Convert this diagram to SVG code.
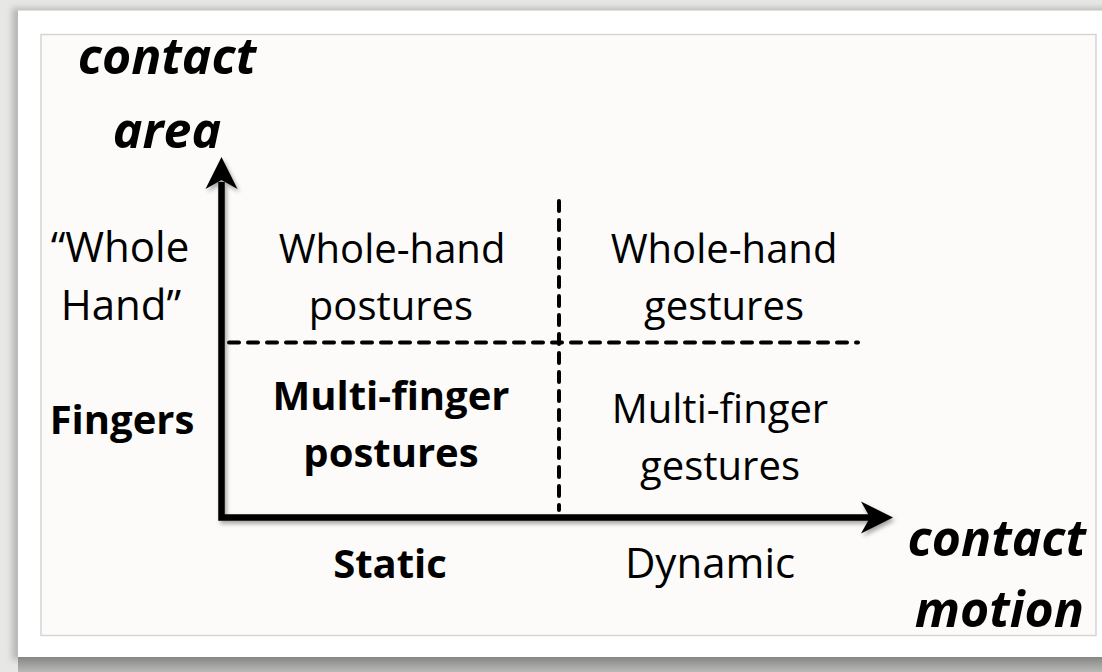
<svg xmlns="http://www.w3.org/2000/svg" width="1102" height="672" viewBox="0 0 1102 672">
  <defs>
    <style>
      .lbl { font-family: "Open Sans", "Noto Sans", "Liberation Sans", sans-serif; font-size: 40px; fill: #000; text-anchor: middle; }
      .b { font-weight: 700; }
      .axis-title { font-family: "Open Sans", "Noto Sans", "Liberation Sans", sans-serif; font-size: 50px; font-weight: 700; font-style: italic; fill: #000; }
      .axis { fill: none; stroke: #000; stroke-width: 6.5; stroke-linejoin: miter; }
      .head { fill: #000; stroke: none; }
      .grid { fill: none; stroke: #000; stroke-width: 4; stroke-dasharray: 10 9; stroke-linecap: round; }
    </style>
    <linearGradient id="floorShade" x1="0" y1="0" x2="0" y2="1">
      <stop offset="0" stop-color="#858583"/>
      <stop offset="0.45" stop-color="#9d9d9b"/>
      <stop offset="1" stop-color="#b9b9b7"/>
    </linearGradient>
    <filter id="soft" x="-10%" y="-10%" width="120%" height="120%">
      <feGaussianBlur stdDeviation="3"/>
    </filter>
    <filter id="drop" x="-5%" y="-5%" width="115%" height="115%">
      <feDropShadow dx="2" dy="3" stdDeviation="2" flood-color="#000" flood-opacity="0.35"/>
    </filter>
  </defs>

  <!-- backdrop and card -->
  <rect x="0" y="0" width="1102" height="672" fill="#e7e8e5"/>
  <rect x="12" y="8" width="1100" height="652" fill="#b8b8b6" filter="url(#soft)"/>
  <rect x="18" y="657" width="1084" height="15" fill="url(#floorShade)"/>
  <rect x="18" y="10.5" width="1090" height="646.5" fill="#ffffff"/>
  <rect x="41" y="34.5" width="1055" height="601" fill="#fcfbf9" stroke="#d5d5d3" stroke-width="1.5"/>

  <!-- axes and quadrant dividers -->
  <g id="connectors">
    <g filter="url(#drop)">
      <path class="axis" d="M221.5,182 V517.5 H872"/>
      <path class="head" d="M221.5,157 L237.5,189 L221.5,180 L205.5,189 Z"/>
      <path class="head" d="M893,517.5 L861,501.5 L870,517.5 L861,533.5 Z"/>
    </g>
    <line class="grid" x1="229" y1="342.5" x2="858" y2="342.5"/>
    <line class="grid" x1="559" y1="201" x2="559" y2="510"/>
  </g>

  <!-- axis titles -->
  <g id="y-axis-title">
    <text class="axis-title" x="167" y="74" text-anchor="middle">contact</text>
    <text class="axis-title" x="167" y="148" text-anchor="middle">area</text>
  </g>
  <g id="x-axis-title">
    <text class="axis-title" x="1086" y="556" text-anchor="end">contact</text>
    <text class="axis-title" x="1084" y="627" text-anchor="end">motion</text>
  </g>

  <!-- row labels -->
  <g id="row-whole-hand">
    <text class="lbl" x="120" y="262" style="font-size:42px">“Whole</text>
    <text class="lbl" x="121" y="320" style="font-size:42px">Hand”</text>
  </g>
  <g id="row-fingers">
    <text class="lbl b" x="122" y="434">Fingers</text>
  </g>

  <!-- column labels -->
  <g id="col-static">
    <text class="lbl b" x="390" y="578">Static</text>
  </g>
  <g id="col-dynamic">
    <text class="lbl" x="710" y="578" style="font-size:42px">Dynamic</text>
  </g>

  <!-- quadrants -->
  <g id="whole-hand-postures">
    <text class="lbl" x="392" y="263">Whole-hand</text>
    <text class="lbl" x="391" y="320">postures</text>
  </g>
  <g id="whole-hand-gestures">
    <text class="lbl" x="724" y="263">Whole-hand</text>
    <text class="lbl" x="724" y="320">gestures</text>
  </g>
  <g id="multi-finger-postures">
    <text class="lbl b" x="391" y="410">Multi-finger</text>
    <text class="lbl b" x="391" y="467">postures</text>
  </g>
  <g id="multi-finger-gestures">
    <text class="lbl" x="720" y="423">Multi-finger</text>
    <text class="lbl" x="720" y="480">gestures</text>
  </g>
</svg>
